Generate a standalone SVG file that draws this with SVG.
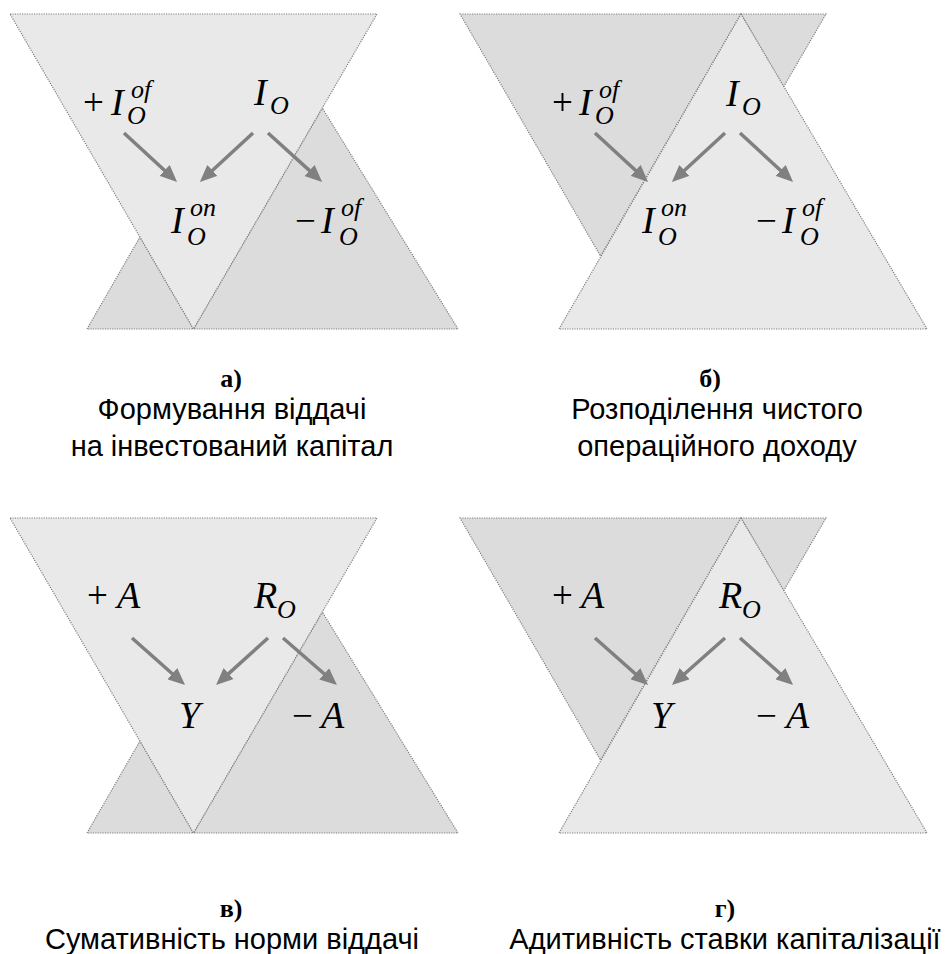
<svg xmlns="http://www.w3.org/2000/svg" width="945" height="954" viewBox="0 0 945 954">
  <defs>
    <marker id="head" markerUnits="userSpaceOnUse" markerWidth="17" markerHeight="15" refX="6" refY="7.5" orient="auto">
      <path d="M0,0 L17,7.5 L0,15 z" fill="#808080"/>
    </marker>
    <style>
      .light { fill: #e9e9e9; stroke: #7f7f7f; stroke-width: 1.2; stroke-dasharray: 1.2 1.2; }
      .dark { fill: #dcdcdc; stroke: #7f7f7f; stroke-width: 1.2; stroke-dasharray: 1.2 1.2; }
      .arrow { stroke: #808080; stroke-width: 3.5; fill: none; marker-end: url(#head); }
      .m { font-family: "Liberation Serif", "Times New Roman", serif; font-style: italic; font-size: 38px; fill: #000; }
      .s { font-family: "Liberation Serif", "Times New Roman", serif; font-style: italic; font-size: 26px; fill: #000; }
      .op { font-family: "Liberation Serif", "Times New Roman", serif; font-size: 37px; fill: #000; }
      .tag { font-family: "Liberation Serif", "Times New Roman", serif; font-weight: bold; font-size: 26px; text-anchor: middle; fill: #000; }
      .cap { font-family: "Liberation Sans", Arial, sans-serif; font-size: 29px; text-anchor: middle; fill: #000; }
    </style>
  </defs>
  <rect width="945" height="954" fill="#ffffff"/>

  <!-- Panel a: shapes -->
  <g id="shapes-a">
    <polygon class="dark" points="87,329 140,237 193.5,329"/>
    <polygon class="dark" points="193.5,329 322.3,108 458,329"/>
    <polygon class="light" points="10,14 377,14 193.5,329"/>
  </g>
  <!-- Panel b: shapes -->
  <g id="shapes-b">
    <polygon class="dark" points="460,14 741,14 600.5,256"/>
    <polygon class="dark" points="741,14 826,14 783.5,87"/>
    <polygon class="light" points="741,14 559,329 927,329"/>
  </g>
  <!-- Panel v: shapes -->
  <g id="shapes-v" transform="translate(0,504)">
    <polygon class="dark" points="87,329 140,237 193.5,329"/>
    <polygon class="dark" points="193.5,329 322.3,108 458,329"/>
    <polygon class="light" points="10,14 377,14 193.5,329"/>
  </g>
  <!-- Panel g: shapes -->
  <g id="shapes-g" transform="translate(0,504)">
    <polygon class="dark" points="460,14 741,14 600.5,256"/>
    <polygon class="dark" points="741,14 826,14 783.5,87"/>
    <polygon class="light" points="741,14 559,329 927,329"/>
  </g>

  <!-- connectors -->
  <g id="connectors">
    <line class="arrow" x1="124" y1="133" x2="169" y2="174.5"/>
    <line class="arrow" x1="253" y1="133" x2="208" y2="174.5"/>
    <line class="arrow" x1="268" y1="133" x2="314" y2="174.6"/>
    <line class="arrow" x1="595" y1="133" x2="640" y2="174.5"/>
    <line class="arrow" x1="725" y1="133" x2="680" y2="174.5"/>
    <line class="arrow" x1="740" y1="133" x2="785" y2="174.5"/>
    <line class="arrow" x1="132" y1="638" x2="176.8" y2="677.7"/>
    <line class="arrow" x1="268" y1="638" x2="224.2" y2="677.6"/>
    <line class="arrow" x1="283" y1="638" x2="328.7" y2="677.8"/>
    <line class="arrow" x1="595" y1="638" x2="639.8" y2="677.7"/>
    <line class="arrow" x1="725" y1="638" x2="680.2" y2="677.7"/>
    <line class="arrow" x1="740" y1="638" x2="784.8" y2="677.7"/>
  </g>

  <!-- Panel a: nodes -->
  <g id="a-plus-Iof">
    <text class="op" x="83" y="115">+</text>
    <text class="m" x="111" y="115">I</text>
    <text class="s" x="131" y="98">of</text>
    <text class="s" x="127" y="124">O</text>
  </g>
  <g id="a-IO">
    <text class="m" x="254" y="105">I</text>
    <text class="s" x="270" y="114">O</text>
  </g>
  <g id="a-Ion">
    <text class="m" x="171" y="233">I</text>
    <text class="s" x="190" y="216">on</text>
    <text class="s" x="187" y="245">O</text>
  </g>
  <g id="a-minus-Iof">
    <text class="op" x="295" y="233">−</text>
    <text class="m" x="321" y="233">I</text>
    <text class="s" x="341" y="216">of</text>
    <text class="s" x="339" y="245">O</text>
  </g>

  <!-- Panel b: nodes -->
  <g id="b-plus-Iof">
    <text class="op" x="552" y="115">+</text>
    <text class="m" x="579" y="115">I</text>
    <text class="s" x="599" y="98">of</text>
    <text class="s" x="595" y="124">O</text>
  </g>
  <g id="b-IO">
    <text class="m" x="726" y="106">I</text>
    <text class="s" x="742" y="115">O</text>
  </g>
  <g id="b-Ion">
    <text class="m" x="642" y="233">I</text>
    <text class="s" x="661" y="216">on</text>
    <text class="s" x="658" y="245">O</text>
  </g>
  <g id="b-minus-Iof">
    <text class="op" x="756" y="233">−</text>
    <text class="m" x="782" y="233">I</text>
    <text class="s" x="802" y="216">of</text>
    <text class="s" x="800" y="245">O</text>
  </g>

  <!-- Panel v: nodes -->
  <g id="v-plus-A">
    <text class="op" x="87" y="608">+</text>
    <text class="m" x="117" y="608">A</text>
  </g>
  <g id="v-RO">
    <text class="m" x="254" y="608">R</text>
    <text class="s" x="277" y="618">O</text>
  </g>
  <g id="v-Y">
    <text class="m" x="179" y="728">Y</text>
  </g>
  <g id="v-minus-A">
    <text class="op" x="292" y="728">−</text>
    <text class="m" x="321" y="728">A</text>
  </g>

  <!-- Panel g: nodes -->
  <g id="g-plus-A">
    <text class="op" x="552" y="608">+</text>
    <text class="m" x="581" y="608">A</text>
  </g>
  <g id="g-RO">
    <text class="m" x="719" y="608">R</text>
    <text class="s" x="742" y="618">O</text>
  </g>
  <g id="g-Y">
    <text class="m" x="651" y="728">Y</text>
  </g>
  <g id="g-minus-A">
    <text class="op" x="756" y="728">−</text>
    <text class="m" x="786" y="728">A</text>
  </g>

  <!-- captions -->
  <g id="captions">
    <text class="tag" x="231" y="387">а)</text>
    <text class="cap" x="232" y="419">Формування віддачі</text>
    <text class="cap" x="232" y="456">на інвестований капітал</text>
    <text class="tag" x="710" y="387">б)</text>
    <text class="cap" x="717" y="419">Розподілення чистого</text>
    <text class="cap" x="717" y="456">операційного доходу</text>
    <text class="tag" x="231" y="917">в)</text>
    <text class="cap" x="232" y="949">Сумативність норми віддачі</text>
    <text class="tag" x="725" y="917">г)</text>
    <text class="cap" x="725" y="949">Адитивність ставки капіталізації</text>
  </g>
</svg>
